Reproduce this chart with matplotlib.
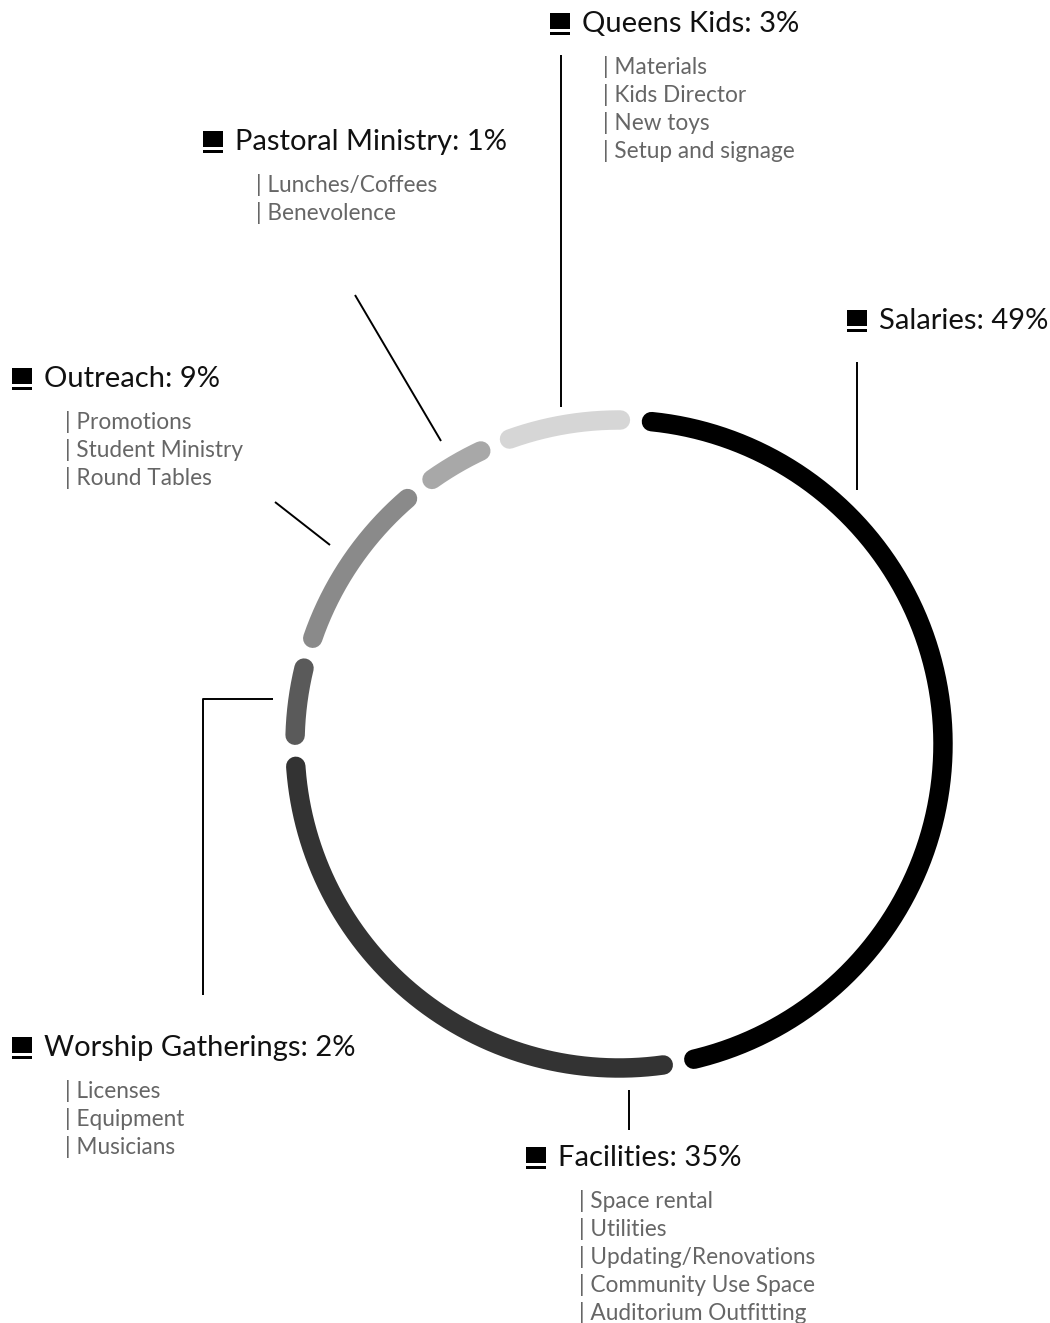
import numpy as np
import matplotlib
matplotlib.use("Agg")
import matplotlib.pyplot as plt
from matplotlib.patches import Rectangle

# budget categories, going clockwise from the top of the ring
categories = ["Salaries", "Facilities", "Worship Gatherings", "Outreach",
              "Pastoral Ministry", "Queens Kids"]
percents = [49, 35, 2, 9, 1, 3]
# arc sizes as drawn in the ring (degrees)
arc_sizes = [166.4, 99.4, 17.5, 35.7, 15.5, 25.5]
colors = ["#000000", "#333333", "#5a5a5a", "#8a8a8a", "#a8a8a8", "#d6d6d6"]
items = {
    "Salaries": [],
    "Facilities": ["Space rental", "Utilities", "Updating/Renovations",
                   "Community Use Space", "Auditorium Outfitting"],
    "Worship Gatherings": ["Licenses", "Equipment", "Musicians"],
    "Outreach": ["Promotions", "Student Ministry", "Round Tables"],
    "Pastoral Ministry": ["Lunches/Coffees", "Benevolence"],
    "Queens Kids": ["Materials", "Kids Director", "New toys", "Setup and signage"],
}

# layout (pixels)
cx, cy, r = 619, 744, 324
start = 3.0
gap = 5.5
label_pos = {
    "Queens Kids": (550, 24),
    "Pastoral Ministry": (203, 142),
    "Salaries": (847, 321),
    "Outreach": (12, 379),
    "Worship Gatherings": (12, 1048),
    "Facilities": (526, 1158),
}
leaders = {
    "Queens Kids": ([561, 561], [55, 407]),
    "Pastoral Ministry": ([355, 441], [295, 441]),
    "Salaries": ([857, 857], [362, 490]),
    "Outreach": ([275, 330], [502, 545]),
    "Worship Gatherings": ([273, 203, 203], [699, 699, 995]),
    "Facilities": ([629, 629], [1090, 1130]),
}

plt.rcParams['font.family'] = ['Lato', 'DejaVu Sans']

fig = plt.figure(figsize=(10.5, 13.23), dpi=100)
ax = fig.add_axes([0, 0, 1, 1])
ax.set_xlim(0, 1050)
ax.set_ylim(1323, 0)
ax.axis('off')

# ring arcs
a = start
for size, col in zip(arc_sizes, colors):
    th = np.radians(np.linspace(a + gap / 2, a + size - gap / 2, 200))
    ax.plot(cx + r * np.sin(th), cy - r * np.cos(th), color=col, lw=14,
            solid_capstyle='round')
    a += size

# leader lines
for name, (xs, ys) in leaders.items():
    ax.plot(xs, ys, color='black', lw=1.4, solid_capstyle='butt')

# labels
for name, pct in zip(categories, percents):
    x, y = label_pos[name]
    ax.add_patch(Rectangle((x, y - 11), 20, 16, color='black', lw=0))
    ax.add_patch(Rectangle((x, y + 8), 20, 3, color='black', lw=0))
    ax.text(x + 32, y, f"{name}: {pct}%", fontsize=21, fontweight='normal',
            va='center', ha='left', color='#111111')
    for i, it in enumerate(items[name]):
        ax.text(x + 53, y + 43 + 28 * i, "| " + it, fontsize=16.3,
                fontweight='normal', va='center', ha='left', color='#666666')

fig.savefig("out.png", dpi=100, facecolor='white')
